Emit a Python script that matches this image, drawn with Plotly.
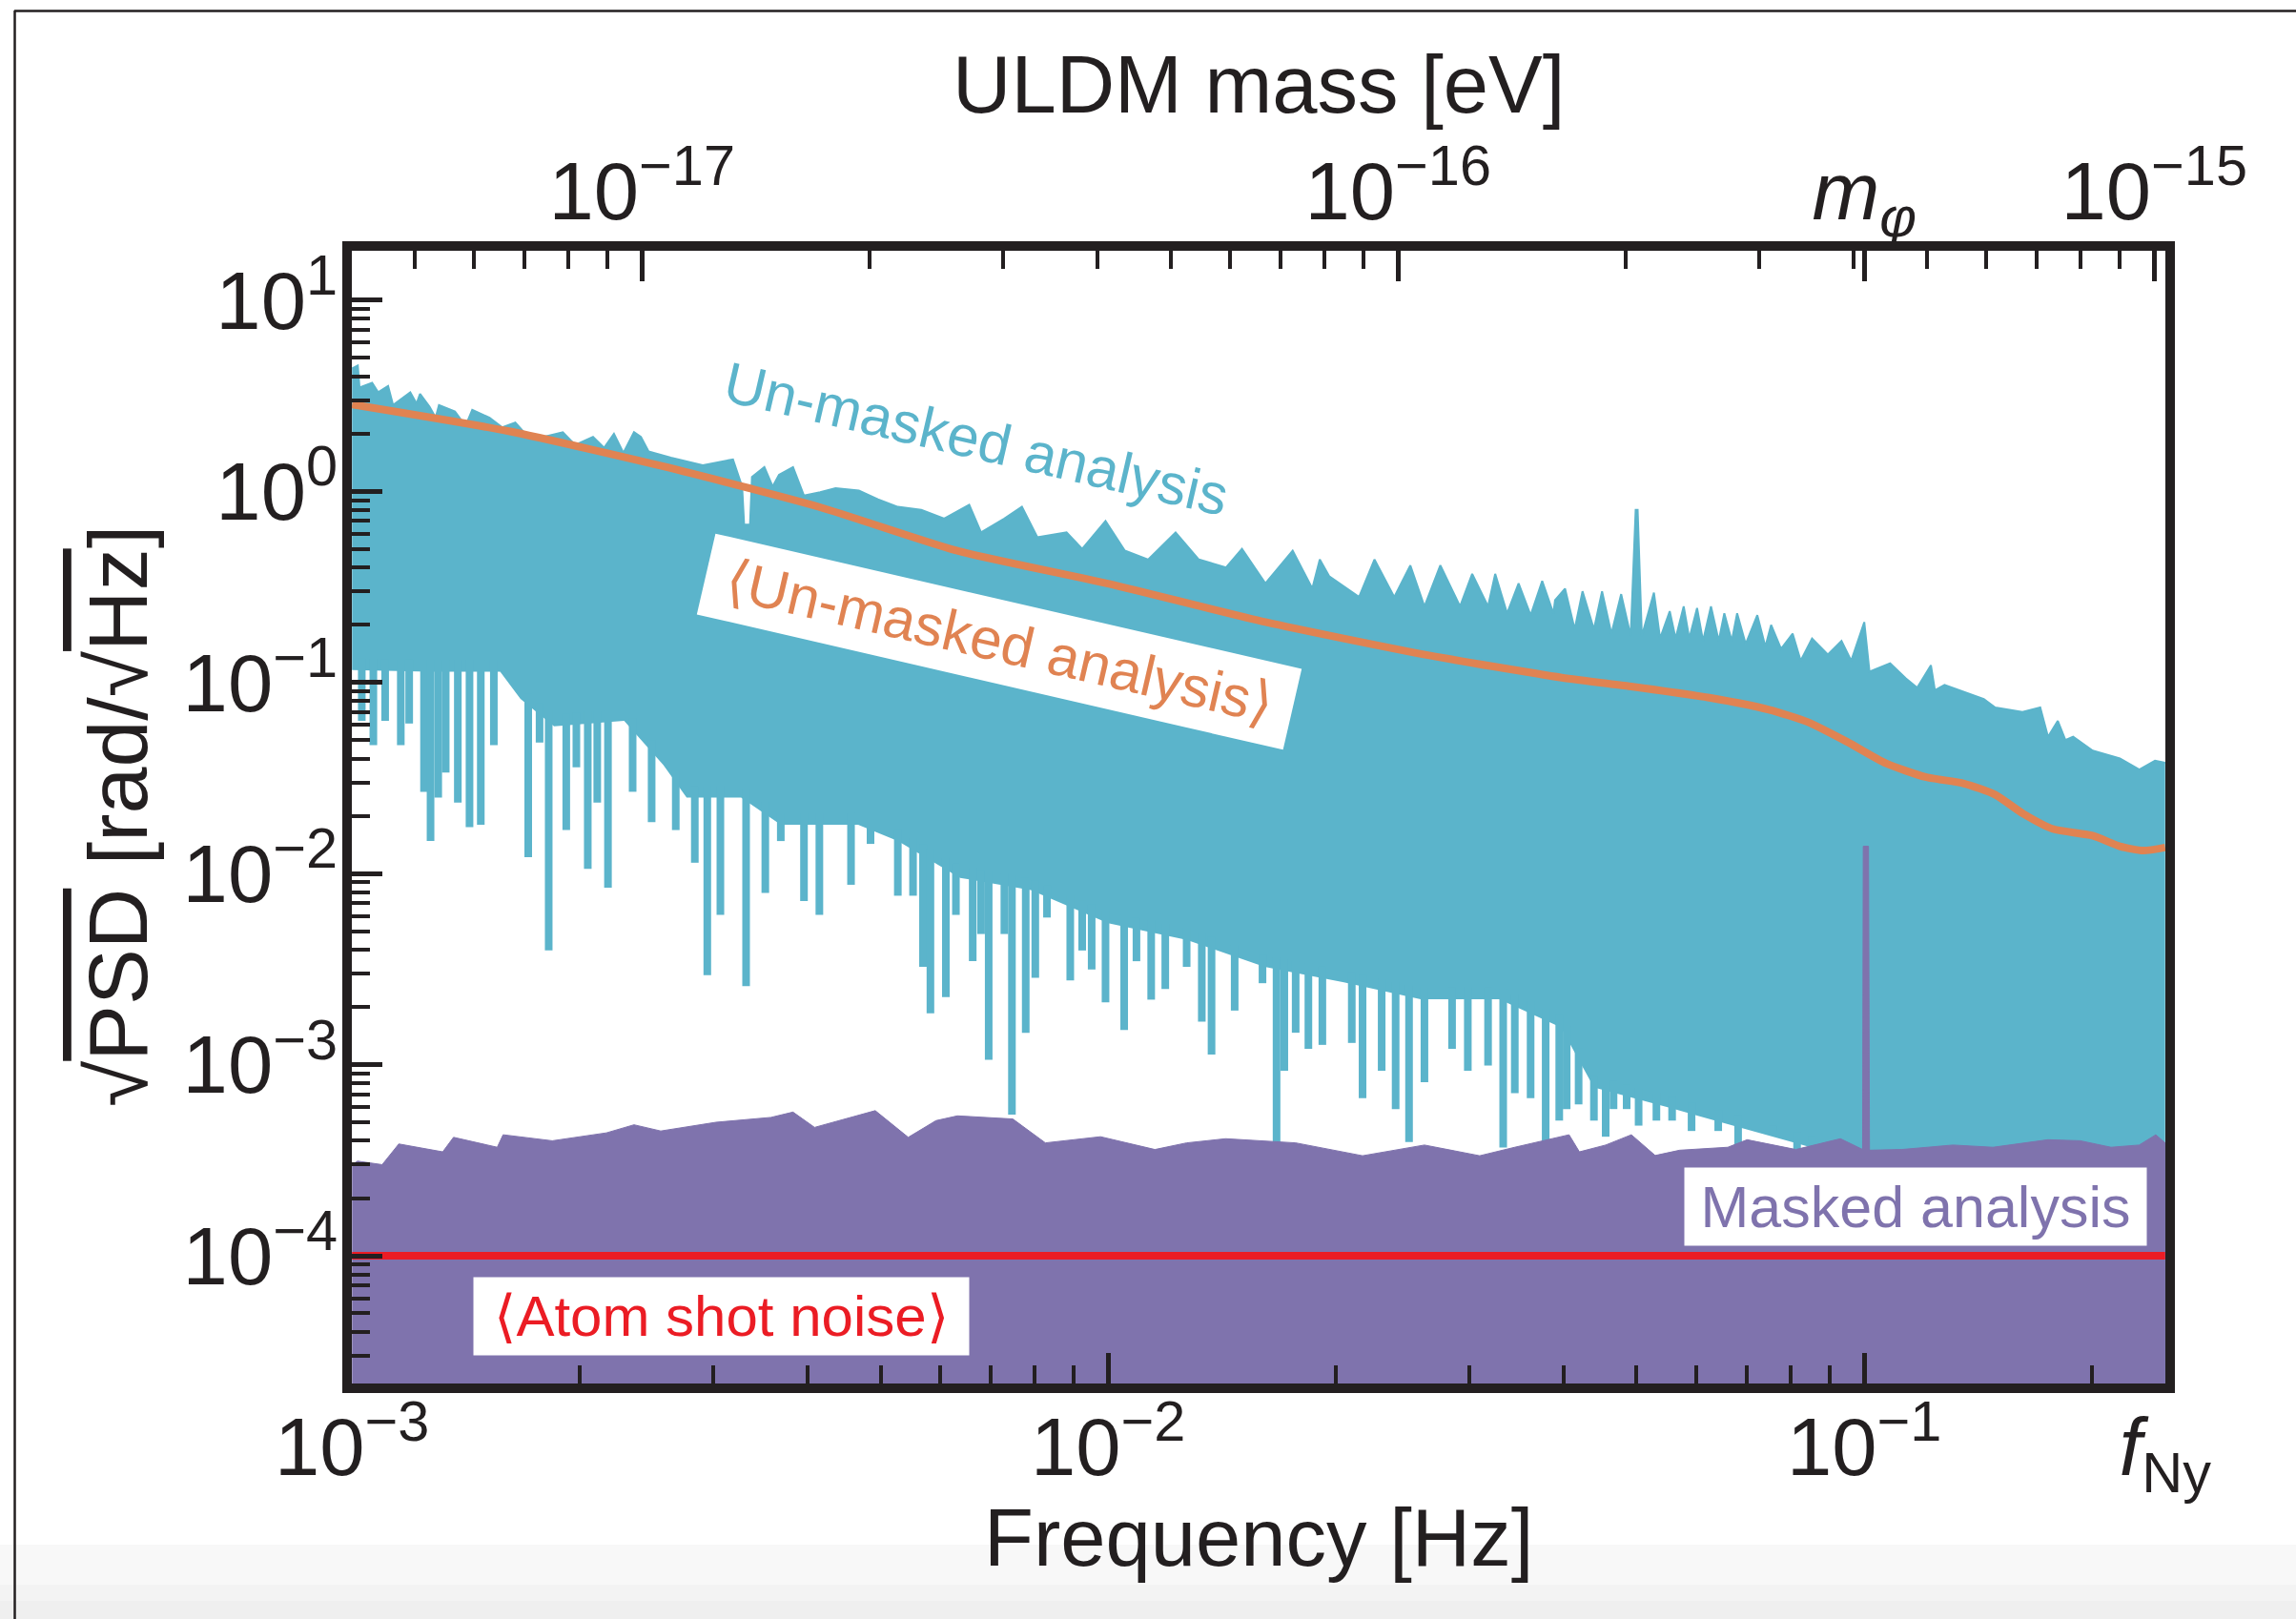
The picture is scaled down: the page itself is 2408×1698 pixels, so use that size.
import numpy as np
import plotly.graph_objects as go

# ---------------- data ----------------
H_EV_S = 4.135667696e-15      # Planck constant [eV s]: m = h f
F_NY = 0.25                   # Nyquist frequency [Hz]
F_MPHI = 0.1                  # frequency of m_phi [Hz]
SHOT_NOISE = 1e-4             # <Atom shot noise> [rad/sqrt(Hz)]

# un-masked spectrum: upper envelope
unmasked_up_f = [1.000e-3, 1.0176e-3, 1.023e-3, 1.063e-3, 1.083e-3, 1.116e-3, 1.133e-3, 1.194e-3,
                 1.217e-3, 1.230e-3, 1.266e-3, 1.290e-3, 1.303e-3, 1.368e-3, 1.413e-3, 1.442e-3,
                 1.520e-3, 1.580e-3, 1.644e-3, 1.726e-3, 1.792e-3, 1.900e-3, 1.973e-3, 2.083e-3,
                 2.155e-3, 2.220e-3, 2.285e-3, 2.360e-3, 2.410e-3, 2.467e-3, 2.640e-3, 2.910e-3,
                 3.190e-3, 3.280e-3, 3.300e-3, 3.360e-3, 3.380e-3, 3.510e-3, 3.600e-3, 3.670e-3,
                 3.830e-3, 3.960e-3, 4.160e-3, 4.360e-3, 4.680e-3, 4.960e-3, 5.270e-3, 5.660e-3,
                 6.070e-3, 6.550e-3, 6.790e-3, 7.290e-3, 7.690e-3, 8.060e-3, 8.810e-3, 9.240e-3,
                 9.920e-3, 1.052e-2, 1.130e-2, 1.228e-2, 1.318e-2, 1.432e-2, 1.503e-2, 1.614e-2,
                 1.754e-2, 1.862e-2, 1.905e-2, 1.960e-2, 2.147e-2, 2.250e-2, 2.390e-2, 2.510e-2,
                 2.620e-2, 2.750e-2, 2.920e-2, 3.030e-2, 3.180e-2, 3.250e-2, 3.370e-2, 3.490e-2,
                 3.620e-2, 3.750e-2, 3.880e-2, 3.900e-2, 4.020e-2, 4.140e-2, 4.240e-2, 4.390e-2,
                 4.500e-2, 4.630e-2, 4.770e-2, 4.910e-2, 4.985e-2, 5.015e-2, 5.080e-2, 5.270e-2,
                 5.370e-2, 5.530e-2, 5.630e-2, 5.770e-2, 5.870e-2, 6.010e-2, 6.120e-2, 6.270e-2,
                 6.420e-2, 6.530e-2, 6.680e-2, 6.790e-2, 6.970e-2, 7.220e-2, 7.400e-2, 7.530e-2,
                 7.760e-2, 8.040e-2, 8.240e-2, 8.530e-2, 8.950e-2, 9.330e-2, 9.610e-2, 9.980e-2,
                 1.000e-1, 1.016e-1, 1.082e-1, 1.135e-1, 1.175e-1, 1.225e-1, 1.240e-1, 1.277e-1,
                 1.371e-1, 1.439e-1, 1.490e-1, 1.619e-1, 1.709e-1, 1.750e-1, 1.803e-1, 1.845e-1,
                 1.889e-1, 2.005e-1, 2.178e-1, 2.311e-1, 2.424e-1, 2.500e-1]
unmasked_up_v = [4.40, 4.56, 3.49, 3.70, 3.30, 3.56, 2.83, 3.30,
                 2.88, 3.24, 2.77, 2.43, 2.83, 2.62, 2.20, 2.67,
                 2.43, 2.16, 2.29, 1.85, 1.93, 2.04, 1.75, 1.93,
                 1.69, 2.00, 1.59, 2.04, 1.93, 1.62, 1.50, 1.37,
                 1.47, 1.06, 0.67, 0.67, 1.19, 1.34, 1.06, 1.22,
                 1.34, 0.95, 0.99, 1.04, 1.01, 0.91, 0.83, 0.80,
                 0.72, 0.85, 0.61, 0.72, 0.83, 0.575, 0.61, 0.50,
                 0.70, 0.49, 0.44, 0.61, 0.44, 0.40, 0.50, 0.33,
                 0.49, 0.31, 0.44, 0.36, 0.28, 0.44, 0.28, 0.41,
                 0.25, 0.41, 0.25, 0.37, 0.25, 0.37, 0.23, 0.33,
                 0.225, 0.34, 0.23, 0.27, 0.31, 0.19, 0.30, 0.19,
                 0.30, 0.18, 0.29, 0.175, 0.80, 0.80, 0.175, 0.295,
                 0.17, 0.236, 0.17, 0.25, 0.17, 0.245, 0.165, 0.25,
                 0.165, 0.23, 0.165, 0.23, 0.159, 0.225, 0.154, 0.20,
                 0.150, 0.18, 0.13, 0.17, 0.14, 0.165, 0.13, 0.207,
                 0.207, 0.114, 0.126, 0.105, 0.094, 0.123, 0.091, 0.097,
                 0.0877, 0.082, 0.074, 0.070, 0.074, 0.052, 0.063, 0.050,
                 0.052, 0.044, 0.040, 0.035, 0.039, 0.038]

# un-masked spectrum: solid lower envelope
unmasked_low_f = [1.00e-3, 1.27e-3, 1.57e-3, 1.67e-3, 1.85e-3, 2.29e-3, 2.58e-3, 2.77e-3,
                  3.27e-3, 3.69e-3, 4.67e-3, 5.27e-3, 6.37e-3, 7.90e-3, 1.00e-2, 1.27e-2,
                  1.61e-2, 2.05e-2, 2.59e-2, 3.29e-2, 3.97e-2, 4.39e-2, 5.57e-2, 7.10e-2,
                  8.70e-2, 8.80e-2, 2.50e-1]
unmasked_low_v = [0.116, 0.114, 0.114, 0.082, 0.059, 0.063, 0.037, 0.025,
                  0.025, 0.018, 0.018, 0.0148, 0.0095, 0.0082, 0.0055, 0.0045,
                  0.00325, 0.0027, 0.0022, 0.0022, 0.00157, 7.6e-4, 5.9e-4, 4.5e-4,
                  3.6e-4, 1e-6, 1e-6]

# un-masked spectrum: narrow downward dips (frequency, minimum)
dip_f = [1.03e-3, 1.067e-3, 1.106e-3, 1.16e-3, 1.19e-3, 1.245e-3, 1.27e-3, 1.30e-3, 1.33e-3,
         1.38e-3, 1.43e-3, 1.48e-3, 1.54e-3, 1.71e-3, 1.77e-3, 1.82e-3, 1.92e-3, 1.98e-3,
         2.05e-3, 2.11e-3, 2.18e-3, 2.35e-3, 2.49e-3, 2.68e-3, 2.84e-3, 2.95e-3, 3.07e-3,
         3.32e-3, 3.52e-3, 3.69e-3, 3.96e-3, 4.15e-3, 4.57e-3, 4.85e-3, 5.27e-3, 5.52e-3,
         5.69e-3, 5.82e-3, 6.10e-3, 6.29e-3, 6.62e-3, 6.79e-3, 6.95e-3, 7.29e-3, 7.46e-3,
         7.78e-3, 8.01e-3, 8.30e-3, 8.91e-3, 9.24e-3, 9.51e-3, 9.92e-3, 1.05e-2, 1.09e-2,
         1.14e-2, 1.19e-2, 1.27e-2, 1.33e-2, 1.37e-2, 1.47e-2, 1.60e-2, 1.67e-2, 1.71e-2,
         1.77e-2, 1.84e-2, 1.92e-2, 2.10e-2, 2.17e-2, 2.30e-2, 2.40e-2, 2.50e-2, 2.62e-2,
         2.85e-2, 2.99e-2, 3.18e-2, 3.33e-2, 3.45e-2, 3.62e-2, 3.79e-2, 3.95e-2, 4.04e-2,
         4.19e-2, 4.39e-2, 4.55e-2, 4.66e-2, 4.85e-2, 5.03e-2, 5.31e-2, 5.57e-2, 5.91e-2,
         6.41e-2, 6.81e-2, 7.58e-2, 8.15e-2, 8.54e-2]
dip_v = [0.063, 0.047, 0.063, 0.047, 0.061, 0.0268, 0.0148, 0.025, 0.0338,
         0.0235, 0.0175, 0.018, 0.047, 0.0122, 0.0485, 0.00396, 0.0169, 0.036,
         0.0106, 0.0235, 0.00845, 0.0268, 0.0186, 0.0169, 0.0114, 0.00294, 0.00608,
         0.00258, 0.00792, 0.0148, 0.00718, 0.00608, 0.00874, 0.0143, 0.00766, 0.00766,
         0.00325, 0.00186, 0.00226, 0.00608, 0.00348, 0.00483, 0.00106, 0.00483, 5.48e-4,
         0.00147, 0.00285, 0.00589, 0.00276, 0.00396, 0.00315, 0.00212, 0.00152, 0.00348,
         0.00219, 0.00249, 0.00325, 0.00168, 0.00113, 0.00192, 0.00267, 3.69e-4, 9.3e-4,
         0.00147, 0.00121, 0.00127, 0.0013, 6.68e-4, 9.3e-4, 5.86e-4, 3.94e-4, 8.1e-4,
         0.00121, 9.3e-4, 9.9e-4, 3.69e-4, 7.1e-4, 6.68e-4, 3.94e-4, 5.1e-4, 5.86e-4,
         6.2e-4, 5.1e-4, 4.2e-4, 5.86e-4, 5.86e-4, 4.8e-4, 5.1e-4, 5.1e-4, 4.5e-4,
         4.5e-4, 3.6e-4, 4.5e-4, 3.6e-4, 4.0e-4]

# masked spectrum (top of the purple region)
masked_f = [1.000e-3, 1.017e-3, 1.096e-3, 1.153e-3, 1.318e-3, 1.362e-3, 1.556e-3, 1.584e-3,
            1.840e-3, 2.170e-3, 2.360e-3, 2.560e-3, 3.030e-3, 3.580e-3, 3.830e-3, 4.090e-3,
            4.920e-3, 5.440e-3, 5.920e-3, 6.320e-3, 7.480e-3, 8.260e-3, 9.770e-3, 1.153e-2,
            1.270e-2, 1.430e-2, 1.770e-2, 2.170e-2, 2.620e-2, 3.100e-2, 3.450e-2, 4.070e-2,
            4.200e-2, 4.550e-2, 4.920e-2, 5.290e-2, 5.700e-2, 6.600e-2, 7.000e-2, 7.550e-2,
            8.120e-2, 9.300e-2, 9.950e-2, 9.970e-2, 1.013e-1, 1.016e-1, 1.120e-1, 1.310e-1,
            1.480e-1, 1.750e-1, 1.930e-1, 2.120e-1, 2.310e-1, 2.430e-1, 2.500e-1]
masked_v = [3.00e-4, 3.13e-4, 3.00e-4, 3.85e-4, 3.50e-4, 4.17e-4, 3.70e-4, 4.30e-4,
            4.00e-4, 4.40e-4, 4.85e-4, 4.50e-4, 5.00e-4, 5.30e-4, 5.65e-4, 4.70e-4,
            5.75e-4, 4.17e-4, 5.10e-4, 5.40e-4, 5.20e-4, 3.90e-4, 4.20e-4, 3.60e-4,
            3.90e-4, 4.10e-4, 3.90e-4, 3.34e-4, 3.80e-4, 3.34e-4, 3.70e-4, 4.30e-4,
            3.50e-4, 3.80e-4, 4.30e-4, 3.35e-4, 3.57e-4, 3.70e-4, 4.05e-4, 3.80e-4,
            3.60e-4, 4.10e-4, 3.60e-4, 1.39e-2, 1.39e-2, 3.57e-4, 3.60e-4, 3.80e-4,
            3.70e-4, 4.05e-4, 4.00e-4, 3.70e-4, 3.80e-4, 4.30e-4, 3.90e-4]

# <Un-masked analysis> smooth curve
mean_f = [1.000e-3, 1.607e-3, 2.582e-3, 4.159e-3, 6.300e-3, 1.003e-2, 1.614e-2, 2.594e-2,
          3.981e-2, 4.943e-2, 6.266e-2, 7.482e-2, 8.427e-2, 9.484e-2, 1.069e-1, 1.205e-1,
          1.355e-1, 1.489e-1, 1.622e-1, 1.778e-1, 2.004e-1, 2.178e-1, 2.339e-1, 2.500e-1]
mean_v = [2.85, 2.07, 1.35, 0.826, 0.49, 0.328, 0.207, 0.141,
          0.106, 0.095, 0.083, 0.072, 0.062, 0.049, 0.0377, 0.032,
          0.0296, 0.0259, 0.0206, 0.0171, 0.0158, 0.0139, 0.0132, 0.0137]

# axes
x_tick_vals = [1e-3, 1e-2, 1e-1, F_NY]
x_tick_text = ["10<sup>−3</sup>", "10<sup>−2</sup>", "10<sup>−1</sup>", "<i>f</i><sub>Ny</sub>"]
y_tick_vals = [1e-4, 1e-3, 1e-2, 1e-1, 1e0, 1e1]
y_tick_text = ["10<sup>−4</sup>", "10<sup>−3</sup>", "10<sup>−2</sup>",
               "10<sup>−1</sup>", "10<sup>0</sup>", "10<sup>1</sup>"]
m_tick_vals = [1e-17, 1e-16, H_EV_S * F_MPHI, 1e-15]
m_tick_text = ["10<sup>−17</sup>", "10<sup>−16</sup>", "<i>m</i><sub><i>φ</i></sub>", "10<sup>−15</sup>"]

# ---------------- styling ----------------
W, HGT = 2408, 1698
L, R, T, B = 369, 2271, 263, 1451
TEAL = "#5BB4CB"
PURPLE = "#7F73AD"
ORANGE = "#E08352"
RED = "#EB1C24"
INK = "#231F20"
FONT = "Liberation Sans, Arial, sans-serif"

XR = [np.log10(1e-3) - 0.0003, np.log10(F_NY) + 0.0003]
YR = [-4.668, 1.259]
MR = [v + np.log10(H_EV_S) for v in XR]


def px(X):
    return (X - L) / (R - L)


def py(Y):
    return (B - Y) / (B - T)


x_minor = [k * 10.0 ** n for n in (-3, -2) for k in range(2, 10)] + [0.2]
y_minor = [k * 10.0 ** n for n in range(-5, 2) for k in range(2, 10)]
m_minor = [k * 10.0 ** n for n in (-18, -17, -16) for k in range(2, 10)]

fig = go.Figure()

# teal: lower solid envelope (invisible) + upper ragged envelope filled to it
fig.add_trace(go.Scatter(x=unmasked_low_f, y=unmasked_low_v, mode="lines",
                         line=dict(width=0, color=TEAL), hoverinfo="skip", showlegend=False))
fig.add_trace(go.Scatter(x=unmasked_up_f, y=unmasked_up_v, mode="lines", fill="tonexty",
                         fillcolor=TEAL, line=dict(width=2, color=TEAL),
                         hoverinfo="skip", showlegend=False))

# teal narrow dips
lf = np.log10(unmasked_low_f)
lv = np.log10(unmasked_low_v)
sx, sy = [], []
for f, v in zip(dip_f, dip_v):
    top = 10 ** np.interp(np.log10(f), lf, lv) * 1.15
    sx += [f, f, None]
    sy += [top, v, None]
fig.add_trace(go.Scatter(x=sx, y=sy, mode="lines", line=dict(width=8, color=TEAL),
                         hoverinfo="skip", showlegend=False, connectgaps=False))

# purple masked region
floor = 10 ** (YR[0] - 1)
fig.add_trace(go.Scatter(x=masked_f + [masked_f[-1], masked_f[0]],
                         y=masked_v + [floor, floor], mode="lines", fill="toself",
                         fillcolor=PURPLE, line=dict(width=1, color=PURPLE),
                         hoverinfo="skip", showlegend=False))

# orange mean curve
fig.add_trace(go.Scatter(x=mean_f, y=mean_v, mode="lines",
                         line=dict(width=8, color=ORANGE, shape="spline", smoothing=0.6),
                         hoverinfo="skip", showlegend=False))

# red shot noise
fig.add_trace(go.Scatter(x=[1e-3, F_NY], y=[SHOT_NOISE, SHOT_NOISE], mode="lines",
                         line=dict(width=8, color=RED), hoverinfo="skip", showlegend=False))

# invisible trace on the mass axis so it is drawn
fig.add_trace(go.Scatter(x=[10 ** MR[0], 10 ** MR[1]], y=[1, 1], xaxis="x2", mode="markers",
                         marker=dict(opacity=0), hoverinfo="skip", showlegend=False))

tickfont = dict(family=FONT, size=85, color=INK)
common = dict(showgrid=False, zeroline=False, ticks="inside", ticklen=32, tickwidth=5,
              tickcolor=INK, tickfont=tickfont, type="log")

fig.update_layout(
    width=W, height=HGT,
    margin=dict(l=L, r=W - R, t=T, b=HGT - B, pad=0),
    paper_bgcolor="white", plot_bgcolor="white",
    showlegend=False,
    xaxis=dict(range=XR, tickmode="array", tickvals=x_tick_vals, ticktext=x_tick_text,
               showline=True, linewidth=10, linecolor=INK, mirror=True,
               minor=dict(ticks="inside", ticklen=19, tickwidth=4, tickcolor=INK,
                          tickmode="array", tickvals=x_minor, showgrid=False),
               **common),
    xaxis2=dict(range=MR, overlaying="x", side="top", anchor="y", tickmode="array",
                tickvals=m_tick_vals, ticktext=m_tick_text, showline=False,
                minor=dict(ticks="inside", ticklen=19, tickwidth=4, tickcolor=INK,
                           tickmode="array", tickvals=m_minor, showgrid=False),
                **common),
    yaxis=dict(range=YR, tickmode="array", tickvals=y_tick_vals, ticktext=y_tick_text,
               showline=True, linewidth=10, linecolor=INK, mirror=True,
               minor=dict(ticks="inside", ticklen=19, tickwidth=3.5, tickcolor=INK,
                          tickmode="array", tickvals=y_minor, showgrid=False),
               **common),
)

# fine-tune tick label distances
for ax, off in (("xaxis", -16), ("xaxis2", 15), ("yaxis", -12)):
    try:
        fig.layout[ax].ticklabelstandoff = off
    except Exception:
        pass

annots = [
    dict(text="Frequency [Hz]", x=px(1320), y=py(1612), font=dict(family=FONT, size=85, color=INK)),
    dict(text="ULDM mass [eV]", x=px(1320), y=py(88), font=dict(family=FONT, size=85, color=INK)),
    dict(text="√<span style='text-decoration:overline'>PSD</span> [rad/√<span style='text-decoration:overline'>Hz</span>]",
         x=px(123), y=py(856), textangle=-90, font=dict(family=FONT, size=88, color=INK)),
    dict(text="Un-masked analysis", x=px(1024), y=py(460), textangle=13,
         font=dict(family=FONT, size=60, color=TEAL)),
    dict(text="⟨Un-masked analysis⟩", x=px(1048), y=py(673), textangle=13,
         font=dict(family=FONT, size=60, color=ORANGE), bgcolor="white", width=628, height=84),
    dict(text="Masked analysis", x=px(2009), y=py(1265), font=dict(family=FONT, size=61, color=PURPLE),
         bgcolor="white", width=482, height=79),
    dict(text="⟨Atom shot noise⟩", x=px(756), y=py(1380), font=dict(family=FONT, size=60, color=RED),
         bgcolor="white", width=517, height=79),
]
for a in annots:
    a.update(xref="paper", yref="paper", showarrow=False, xanchor="center", yanchor="middle")
    fig.add_annotation(**a)

# screenshot frame and bottom grey band
shapes = [
    dict(type="rect", x0=px(0), x1=px(W), y0=py(1620), y1=py(1662), fillcolor="#F8F8F8", line=dict(width=0)),
    dict(type="rect", x0=px(0), x1=px(W), y0=py(1662), y1=py(1679), fillcolor="#F3F3F3", line=dict(width=0)),
    dict(type="rect", x0=px(0), x1=px(W), y0=py(1679), y1=py(HGT), fillcolor="#EFEFEF", line=dict(width=0)),
    dict(type="line", x0=px(15), x1=px(W + 5), y0=py(11.5), y1=py(11.5), line=dict(width=2.5, color=INK)),
    dict(type="line", x0=px(15.5), x1=px(15.5), y0=py(11), y1=py(HGT + 5), line=dict(width=2.5, color=INK)),
]
for s in shapes:
    s.update(xref="paper", yref="paper", layer="below")
    fig.add_shape(**s)

fig.write_html("out.html")
